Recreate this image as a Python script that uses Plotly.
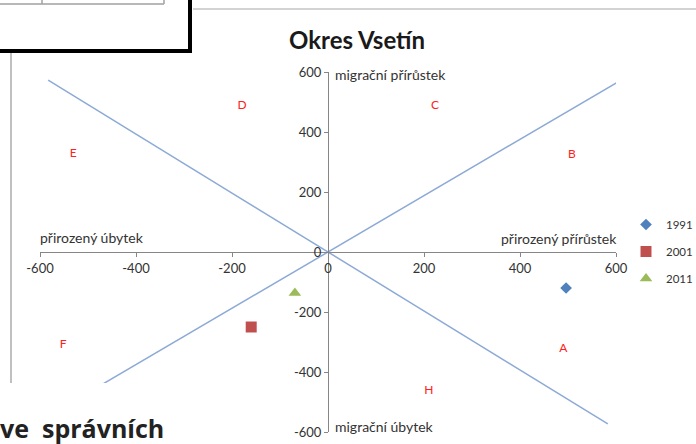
import plotly.graph_objects as go

# ---- data ----
years = ["1991", "2001", "2011"]
nat_change = [496, -160, -69]        # přirozený přírůstek/úbytek (x)
mig_change = [-120, -250, -137]      # migrační přírůstek/úbytek (y)
marker_symbols = ["diamond", "square", "triangle-up"]
marker_colors = ["#4F81BD", "#C0504D", "#9BBB59"]
marker_sizes = [9, 11, 11]

line1_x = [-583, 583]
line1_y = [573, -573]
line2_x = [-604, 604]
line2_y = [-567, 567]

zone_letters = ["A", "B", "C", "D", "E", "F", "H"]
zone_x = [490, 508, 223, -179, -531, -552, 210]
zone_y = [-323, 323, 487, 487, 327, -310, -463]

tick_vals = [-600, -400, -200, 0, 200, 400, 600]
tick_text = [str(v) for v in tick_vals]

# ---- layout geometry ----
# The page canvas is a little wider than the visible window so the legend is never squeezed.
W_VIEW, H = 696, 444
EXTRA = 20
W = W_VIEW + EXTRA
ML, MR, MT, MB = 40, 80 + EXTRA, 72, 12
PW, PH = W - ML - MR, H - MT - MB


def px(xp):
    return (xp - ML) / PW


def py(yp):
    return (H - MB - yp) / PH


FONT = "Lato"
LINE_C = "#8DAAD6"
AX_C = "#868686"

fig = go.Figure()

for lx, ly in ((line1_x, line1_y), (line2_x, line2_y)):
    fig.add_trace(go.Scatter(x=lx, y=ly, mode="lines",
                             line=dict(color=LINE_C, width=1.5),
                             showlegend=False, hoverinfo="skip"))

fig.add_trace(go.Scatter(x=zone_x, y=zone_y, mode="text", text=zone_letters,
                         textfont=dict(family=FONT, size=12, color="#FF2020"),
                         showlegend=False, hoverinfo="skip"))

for i, yr in enumerate(years):
    fig.add_trace(go.Scatter(x=[nat_change[i]], y=[mig_change[i]], mode="markers",
                             name=yr, legendgroup=yr,
                             marker=dict(symbol=marker_symbols[i], color=marker_colors[i],
                                         size=marker_sizes[i], line=dict(width=0))))

axis_common = dict(range=[-600, 600], tickvals=tick_vals, ticktext=tick_text,
                   showgrid=False, zeroline=False, showline=True, linecolor=AX_C,
                   linewidth=1, ticks="outside", ticklen=4, tickcolor=AX_C,
                   tickfont=dict(family=FONT, size=13, color="#333333"),
                   anchor="free", position=0.5, fixedrange=True, automargin=False)

fig.update_layout(
    width=W, height=H,
    margin=dict(l=ML, r=MR, t=MT, b=MB, autoexpand=False),
    paper_bgcolor="white", plot_bgcolor="white",
    xaxis=dict(**axis_common),
    yaxis=dict(**axis_common),
    legend=dict(x=px(626), y=py(210), xanchor="left", yanchor="top",
                font=dict(family=FONT, size=11.5, color="#333333"),
                tracegroupgap=8, bgcolor="rgba(0,0,0,0)"),
    showlegend=True,
)

AX_FONT = dict(family=FONT, size=14, color="#333333")
ann = [
    dict(text="<b>Okres Vsetín</b>", x=px(357), y=py(39), xref="paper", yref="paper",
         showarrow=False, font=dict(family=FONT, size=24, color="#1a1a1a"),
         xanchor="center", yanchor="middle"),
    dict(text="migrační přírůstek", x=0, y=600, xref="x", yref="y", xanchor="left",
         yanchor="middle", xshift=5, yshift=-2, showarrow=False, font=AX_FONT),
    dict(text="migrační úbytek", x=0, y=-600, xref="x", yref="y", xanchor="left",
         yanchor="middle", xshift=5, yshift=6, showarrow=False, font=AX_FONT),
    dict(text="přirozený úbytek", x=-600, y=0, xref="x", yref="y", xanchor="left",
         yanchor="middle", xshift=-2, yshift=15, showarrow=False, font=AX_FONT),
    dict(text="přirozený přírůstek", x=600, y=0, xref="x", yref="y", xanchor="right",
         yanchor="middle", xshift=3, yshift=14, showarrow=False, font=AX_FONT),
    dict(text="<b>ve  správních</b>", x=px(-2), y=py(428), xref="paper", yref="paper",
         xanchor="left", yanchor="middle", showarrow=False,
         font=dict(family="Open Sans", size=25, color="#222222")),
]
fig.update_layout(annotations=ann)

shapes = [
    # white page area covering bottom-left of the chart
    dict(type="rect", xref="paper", yref="paper", x0=px(-5), x1=px(205), y0=py(450), y1=py(383),
         fillcolor="white", line=dict(width=0), layer="above"),
    # left page rule
    dict(type="line", xref="paper", yref="paper", x0=px(11), x1=px(11), y0=py(53), y1=py(383),
         line=dict(color="#C0C0C0", width=2), layer="above"),
    # top right rule
    dict(type="line", xref="paper", yref="paper", x0=px(193), x1=px(W), y0=py(9), y1=py(9),
         line=dict(color="#C4C4C4", width=1.5), layer="above"),
    # framed box top-left
    dict(type="rect", xref="paper", yref="paper", x0=px(-10), x1=px(190), y0=py(51), y1=py(-10),
         fillcolor="white", line=dict(color="black", width=4), layer="above"),
    # table remnants inside box
    dict(type="line", xref="paper", yref="paper", x0=px(0), x1=px(164), y0=py(4), y1=py(4),
         line=dict(color="#A0A0A0", width=1.5), layer="above"),
    dict(type="line", xref="paper", yref="paper", x0=px(42), x1=px(42), y0=py(0), y1=py(4),
         line=dict(color="#A0A0A0", width=1.5), layer="above"),
    dict(type="line", xref="paper", yref="paper", x0=px(164), x1=px(164), y0=py(0), y1=py(4),
         line=dict(color="#A0A0A0", width=1.5), layer="above"),
]
fig.update_layout(shapes=shapes)

fig.write_html("out.html", config={"displayModeBar": False},
               post_script="document.body.style.margin='0';document.body.style.overflow='hidden';")
